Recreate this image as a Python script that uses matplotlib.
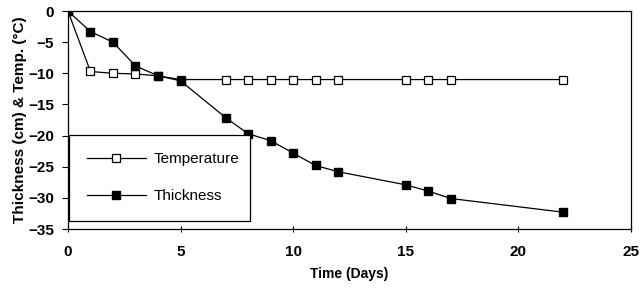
import matplotlib.pyplot as plt

plt.rcParams['font.family'] = ['Liberation Sans', 'DejaVu Sans']

# data
days_temp = [0, 1, 2, 3, 4, 5, 7, 8, 9, 10, 11, 12, 15, 16, 17, 22]
temperature = [0, -9.7, -10.0, -10.1, -10.4, -11.0, -11.0, -11.0, -11.0,
               -11.0, -11.0, -11.0, -11.0, -11.0, -11.0, -11.0]

days_thick = [0, 1, 2, 3, 4, 5, 7, 8, 9, 10, 11, 12, 15, 16, 17, 22]
thickness = [0, -3.3, -5.0, -8.8, -10.4, -11.2, -17.1, -19.7, -20.8,
             -22.8, -24.8, -25.8, -27.9, -28.9, -30.1, -32.3]

x_ticks = [0, 5, 10, 15, 20, 25]
y_ticks = [0, -5, -10, -15, -20, -25, -30, -35]

fig = plt.figure(figsize=(6.41, 2.91), dpi=100)
ax = fig.add_axes([0.106, 0.213, 0.878, 0.749])

ax.plot(days_temp, temperature, color='black', lw=0.9, marker='s', ms=5.5,
        mfc='white', mec='black', mew=0.9, label='Temperature', zorder=3)
ax.plot(days_thick, thickness, color='black', lw=0.9, marker='s', ms=5.5,
        mfc='black', mec='black', label='Thickness', zorder=3)

ax.set_xlim(0, 25)
ax.set_ylim(-35, 0)
ax.set_xticks(x_ticks)
ax.set_yticks(y_ticks)
ax.tick_params(axis='x', direction='inout', length=5, width=0.8, pad=9, labelsize=11)
ax.tick_params(axis='y', direction='out', length=4, width=0.8, pad=6, labelsize=11)
for lab in ax.get_xticklabels() + ax.get_yticklabels():
    lab.set_fontweight('bold')
for sp in ax.spines.values():
    sp.set_linewidth(0.9)

ax.set_xlabel('Time (Days)', fontsize=10, fontweight='bold', labelpad=6)
ax.set_ylabel('Thickness (cm) & Temp. (°C)', fontsize=11, fontweight='bold', labelpad=1)

leg = ax.legend(loc='lower left', bbox_to_anchor=(0.002, 0.037, 0.322, 0.385),
                mode='expand', fancybox=False, edgecolor='black', framealpha=1,
                fontsize=11, handlelength=3.9, borderpad=1.15, labelspacing=1.5,
                handletextpad=0.5, borderaxespad=0)
leg.get_frame().set_linewidth(0.9)

fig.savefig('out.png', dpi=100, facecolor='white')
